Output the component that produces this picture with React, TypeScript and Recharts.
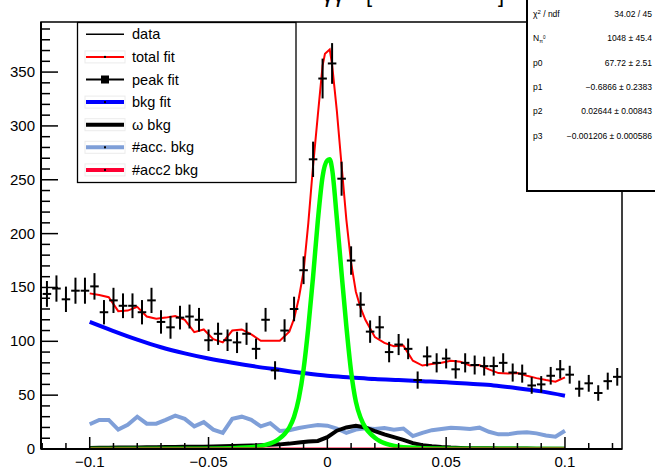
import { ComposedChart, Line, Scatter, ErrorBar, XAxis, YAxis } from 'recharts';

// histogram bins (centres) and counts
const BIN_X = [
  -0.118, -0.114, -0.11, -0.106, -0.102, -0.098, -0.094, -0.09, -0.086, -0.082,
  -0.078, -0.074, -0.07, -0.066, -0.062, -0.058, -0.054, -0.05, -0.046, -0.042,
  -0.038, -0.034, -0.03, -0.026, -0.022, -0.018, -0.014, -0.01, -0.006, -0.002,
  0.002, 0.006, 0.01, 0.014, 0.018, 0.022, 0.026, 0.03, 0.034, 0.038,
  0.042, 0.046, 0.05, 0.054, 0.058, 0.062, 0.066, 0.07, 0.074, 0.078,
  0.082, 0.086, 0.09, 0.094, 0.098, 0.102, 0.106, 0.11, 0.114, 0.118, 0.122,
];
const COUNTS = [
  144, 149, 139, 147, 147, 151, 127, 138, 133, 133,
  127, 138, 118, 113, 122, 123, 120, 101, 107, 101,
  99, 107, 93, 120, 73, 110, 130, 166, 269, 344,
  358, 251, 175, 134, 109, 113, 90, 97, 93, 64,
  86, 80, 84, 74, 80, 78, 77, 77, 80, 71,
  70, 59, 60, 68, 74, 69, 56, 61, 52, 63, 67,
];
const COUNT_ERR = [
  12, 12.2, 11.8, 12.1, 12.1, 12.3, 11.3, 11.7, 11.5, 11.5,
  11.3, 11.7, 10.9, 10.6, 11, 11.1, 11, 10, 10.3, 10,
  9.9, 10.3, 9.6, 11, 8.5, 10.5, 11.4, 12.9, 16.4, 18.5,
  18.9, 15.8, 13.2, 11.6, 10.4, 10.6, 9.5, 9.8, 9.6, 8,
  9.3, 8.9, 9.2, 8.6, 8.9, 8.8, 8.8, 8.8, 8.9, 8.4,
  8.4, 7.7, 7.7, 8.2, 8.6, 8.3, 7.5, 7.8, 7.2, 7.9, 8.2,
];
const BIN_HALF = 0.0018;

// background components sampled on the fit range
const FIT_X = [
  -0.1, -0.096, -0.092, -0.088, -0.084, -0.08, -0.076, -0.072, -0.068, -0.064,
  -0.06, -0.056, -0.052, -0.048, -0.044, -0.04, -0.036, -0.032, -0.028, -0.024,
  -0.02, -0.016, -0.012, -0.008, -0.004, 0, 0.004, 0.008, 0.012, 0.016,
  0.02, 0.024, 0.028, 0.032, 0.036, 0.04, 0.044, 0.048, 0.052, 0.056,
  0.06, 0.064, 0.068, 0.072, 0.076, 0.08, 0.084, 0.088, 0.092, 0.096, 0.1,
];
const ACC_BKG = [
  23, 27, 27, 18, 22.5, 30, 23.5, 23.5, 27, 31,
  28, 21, 25, 18, 15, 28, 30, 27, 21, 24,
  16.7, 17.5, 19.5, 21, 22.3, 21.7, 19, 15, 18, 19.2,
  18.5, 19.5, 18, 19, 12, 15, 17.5, 18.6, 19.8, 19.2,
  18.6, 19.8, 16, 13.6, 13.6, 15, 15.5, 14.5, 12.5, 11.5, 17,
];
const OMEGA_BKG = [
  1, 1.1, 1.2, 1.3, 1.4, 1.5, 1.6, 1.7, 1.8, 1.9,
  2, 2.1, 2.2, 2.4, 2.6, 2.8, 3, 3.2, 3.5, 3.9,
  4.3, 5, 6, 7, 7.5, 11, 17, 20, 21.5, 20,
  16.5, 13.5, 11, 8.5, 5.5, 3.5, 2.5, 1.8, 1.3, 1,
  0.8, 0.7, 0.6, 0.5, 0.5, 0.4, 0.4, 0.3, 0.3, 0.3, 0.3,
];

const BKG_X = [-0.1, -0.09, -0.08, -0.07, -0.06, -0.05, -0.04, -0.03, -0.02, -0.01, 0, 0.01, 0.02, 0.03, 0.04, 0.05, 0.06, 0.07, 0.08, 0.09, 0.1];
const BKG_FIT = [118, 109.5, 101.5, 94.5, 88.8, 84, 80, 76.5, 73.5, 70.5, 68, 66.5, 65, 64, 63, 62, 60.5, 59, 56.5, 53.5, 49.5];

const PEAK_X = [
  -0.1, -0.06, -0.04, -0.03, -0.026, -0.024, -0.022, -0.02, -0.018, -0.016, -0.014, -0.012,
  -0.01, -0.008, -0.006, -0.004, -0.002, 0, 0.001, 0.002, 0.004, 0.006, 0.008, 0.01,
  0.012, 0.014, 0.016, 0.018, 0.02, 0.022, 0.024, 0.026, 0.03, 0.04, 0.06, 0.1,
];
const PEAK_FIT = [
  0.1, 0.3, 0.8, 2, 3.8, 5.2, 7, 10, 14, 20, 30, 47,
  74, 113, 160, 212, 253, 268, 269, 260, 214, 163, 114, 72,
  44, 29, 20, 14.5, 10.5, 7.5, 5.5, 4, 2, 0.8, 0.3, 0.1,
];

const TOTAL_X = [
  -0.1, -0.096, -0.092, -0.088, -0.084, -0.08, -0.076, -0.072, -0.068, -0.064,
  -0.06, -0.056, -0.052, -0.048, -0.044, -0.04, -0.036, -0.032, -0.028, -0.024,
  -0.02, -0.016, -0.014, -0.012, -0.01, -0.008, -0.006, -0.004, -0.002, -0.001,
  0.001, 0.002, 0.004, 0.006, 0.008, 0.01, 0.012, 0.014, 0.016, 0.02,
  0.024, 0.028, 0.032, 0.036, 0.04, 0.044, 0.048, 0.052, 0.056, 0.06,
  0.064, 0.068, 0.072, 0.076, 0.08, 0.084, 0.088, 0.092, 0.096, 0.1,
];
const TOTAL_FIT = [
  144.5, 143, 141, 128, 128.5, 132, 123, 121, 122, 123.5,
  120, 108.5, 111, 102, 99, 110, 111, 106.5, 100.5, 100.5,
  100.5, 109, 121, 140, 165, 210, 263, 310, 356, 367,
  371, 357, 314, 263, 213, 173, 146, 131, 120, 104,
  98.5, 95.5, 96, 82, 77.5, 79, 80, 82, 81, 77.5,
  78, 74, 70.5, 70, 70.5, 68, 65.8, 64, 62.5, 66.5,
];

const ACC2_X = [-0.1, 0.1];
const ACC2_BKG = [0, 0];

const X_MAJOR = [-0.1, -0.05, 0, 0.05, 0.1];
const X_MINOR = [-0.12, -0.11, -0.09, -0.08, -0.07, -0.06, -0.04, -0.03, -0.02, -0.01, 0.01, 0.02, 0.03, 0.04, 0.06, 0.07, 0.08, 0.09, 0.11, 0.12];
const Y_MAJOR = [0, 50, 100, 150, 200, 250, 300, 350];
const Y_MINOR = [10, 20, 30, 40, 60, 70, 80, 90, 110, 120, 130, 140, 160, 170, 180, 190, 210, 220, 230, 240, 260, 270, 280, 290, 310, 320, 330, 340, 360, 370, 380, 390];

const STATS = [
  ['chi', '34.02 / 45'],
  ['N', '1048 ± 45.4'],
  ['p0', '67.72 ± 2.51'],
  ['p1', '−0.6866 ± 0.2383'],
  ['p2', '0.02644 ± 0.00843'],
  ['p3', '−0.001206 ± 0.000586'],
];

const FONT = '"Liberation Sans", Arial, Helvetica, sans-serif';
const LIGHT_BLUE = '#7f9fd8';
const ACC2_RED = '#ff0033';

const pts = (xs: number[], ys: number[]) => xs.map((x, i) => ({ x, y: ys[i] }));
const dataPts = BIN_X.map((x, i) => ({ x, y: COUNTS[i], ey: COUNT_ERR[i], ex: BIN_HALF }));

const fmt = (v: number) => (v < 0 ? '\u2212' + String(-v) : String(v));

// ticks point into the frame, ROOT style; x,y arrive on the axis line
function XTick(props: any) {
  const { x, y, payload } = props;
  const v = payload.value;
  const major = X_MAJOR.includes(v);
  return (
    <g>
      <line x1={x} x2={x} y1={y} y2={y - (major ? 12 : 6)} stroke="#000" strokeWidth={1.5} />
      {major && (
        <text x={x} y={y + 18} textAnchor="middle" fontSize={15} fontFamily={FONT} fill="#000">{fmt(v)}</text>
      )}
    </g>
  );
}

function YTick(props: any) {
  const { x, y, payload } = props;
  const v = payload.value;
  const major = Y_MAJOR.includes(v);
  return (
    <g>
      <line x1={x} x2={x + (major ? 17 : 9)} y1={y} y2={y} stroke="#000" strokeWidth={1.5} />
      {major && (
        <text x={x - 6} y={y + 5} textAnchor="end" fontSize={15} fontFamily={FONT} fill="#000">{v}</text>
      )}
    </g>
  );
}

const LEGEND = [
  { label: 'data', color: '#000', width: 1.5, dot: false, box: false, square: false },
  { label: 'total fit', color: '#ff0000', width: 2, dot: true, box: true, square: false },
  { label: 'peak fit', color: '#000', width: 2, dot: false, box: false, square: true },
  { label: 'bkg fit', color: '#0000ff', width: 4, dot: true, box: true, square: false },
  { label: 'ω bkg', color: '#000', width: 4, dot: false, box: true, square: false },
  { label: '#acc. bkg', color: LIGHT_BLUE, width: 4, dot: true, box: true, square: false },
  { label: '#acc2 bkg', color: ACC2_RED, width: 4, dot: true, box: true, square: false },
];

function Overlay() {
  return (
    <svg width={655} height={469} style={{ position: 'absolute', left: 0, top: 0, pointerEvents: 'none' }}>
      {/* title, mostly cut off at the top */}
      <text y={2} fontSize={22} fontFamily={FONT} fill="#000">
        <tspan x={322}>γγ</tspan>
        <tspan x={366}>[</tspan>
        <tspan x={498}>]</tspan>
      </text>
      {/* frame */}
      <rect x={41} y={22} width={581} height={427} fill="none" stroke="#000" strokeWidth={1.5} />
      {/* legend */}
      <rect x={77.5} y={22.5} width={218.5} height={160} fill="#fff" stroke="#000" strokeWidth={1.3} />
      {LEGEND.map((e, i) => {
        const cy = 34.3 + i * 22.6;
        return (
          <g key={e.label}>
            {e.box && <rect x={85} y={cy - 6} width={40} height={12} fill="none" stroke="#ececec" />}
            <line x1={86} x2={124} y1={cy} y2={cy} stroke={e.color} strokeWidth={e.width} />
            {e.dot && <rect x={104} y={cy - 1} width={2} height={2} fill="#000" />}
            {e.square && <rect x={101} y={cy - 4} width={8} height={8} fill="#000" />}
            <text x={132} y={cy + 5} fontSize={14.5} fontFamily={FONT} fill="#000">{e.label}</text>
          </g>
        );
      })}
      {/* stats box */}
      <rect x={527} y={-3} width={140} height={194} fill="#fff" stroke="#000" strokeWidth={2} />
      {STATS.map(([name, val], i) => {
        const by = 17 + i * 24.3;
        return (
          <g key={name} fontFamily={FONT} fontSize={8.5} fill="#000">
            {name === 'chi' ? (
              <text x={533} y={by}>
                χ<tspan fontSize={6} dy={-3}>2</tspan>
                <tspan dy={3}> / ndf</tspan>
              </text>
            ) : name === 'N' ? (
              <text x={533} y={by}>
                N<tspan fontSize={5.5} dy={2}>π</tspan>
                <tspan fontSize={4.5} dy={-4}>0</tspan>
              </text>
            ) : (
              <text x={533} y={by}>{name}</text>
            )}
            <text x={652} y={by} textAnchor="end">{val}</text>
          </g>
        );
      })}
    </svg>
  );
}

export default function App() {
  return (
    <div style={{ position: 'absolute', left: 0, top: 0, width: 655, height: 469, background: '#fff' }}>
      <ComposedChart width={655} height={469} margin={{ top: 22, right: 33, bottom: 0, left: 0 }}>
        <XAxis
          type="number" dataKey="x" domain={[-0.1205, 0.124]} allowDataOverflow
          ticks={[...X_MINOR, ...X_MAJOR].sort((a, b) => a - b)} interval={0}
          height={20} tickSize={0} tickMargin={0} tick={(p: any) => <XTick {...p} />}
          axisLine={{ stroke: '#000', strokeWidth: 2 }} tickLine={false}
        />
        <YAxis
          type="number" dataKey="y" domain={[0, 396.5]} allowDataOverflow
          ticks={[...Y_MINOR, ...Y_MAJOR].sort((a, b) => a - b)} interval={0}
          width={41} tickSize={0} tickMargin={0} tick={(p: any) => <YTick {...p} />}
          axisLine={{ stroke: '#000', strokeWidth: 2 }} tickLine={false}
        />
        <Line data={pts(FIT_X, ACC_BKG)} dataKey="y" type="linear" stroke={LIGHT_BLUE} strokeWidth={4} dot={false} isAnimationActive={false} />
        <Line data={pts(BKG_X, BKG_FIT)} dataKey="y" type="monotone" stroke="#0000ff" strokeWidth={4} dot={false} isAnimationActive={false} />
        <Line data={pts(FIT_X, OMEGA_BKG)} dataKey="y" type="linear" stroke="#000" strokeWidth={4} dot={false} isAnimationActive={false} />
        <Line data={pts(PEAK_X, PEAK_FIT)} dataKey="y" type="monotone" stroke="#00ff00" strokeWidth={4.5} dot={false} isAnimationActive={false} />
        <Line data={pts(ACC2_X, ACC2_BKG)} dataKey="y" type="linear" stroke={ACC2_RED} strokeWidth={3} dot={false} isAnimationActive={false} />
        <Line data={pts(TOTAL_X, TOTAL_FIT)} dataKey="y" type="linear" stroke="#ff0000" strokeWidth={2} dot={false} isAnimationActive={false} />
        <Scatter data={dataPts} dataKey="y" shape={() => <g />} isAnimationActive={false}>
          <ErrorBar dataKey="ey" direction="y" width={0} stroke="#000" strokeWidth={2} />
          <ErrorBar dataKey="ex" direction="x" width={0} stroke="#000" strokeWidth={2} />
        </Scatter>
      </ComposedChart>
      <Overlay />
    </div>
  );
}
